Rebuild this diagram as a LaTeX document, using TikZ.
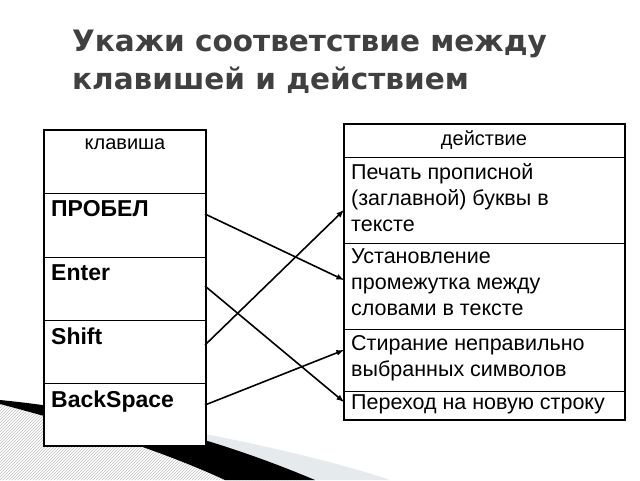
\documentclass[tikz,border=0pt]{standalone}
\usepackage{fontspec}
\setmainfont{Liberation Sans}
\newfontfamily\titlefont{DejaVu Sans}
\usetikzlibrary{patterns}
\begin{document}
\begin{tikzpicture}[x=1pt,y=-1pt,
  cell/.style={anchor=north west,inner sep=0pt,align=left,font=\fontsize{21.5}{26}\selectfont},
  key/.style={anchor=north west,inner sep=0pt,font=\bfseries\fontsize{23}{27}\selectfont},
  conn/.style={-latex,line width=1.6pt}]
\useasboundingbox (0,0) rectangle (640,480);
\fill[white] (0,0) rectangle (640,480);
% decoration
\fill[pattern=north east lines,pattern color=gray!50] (0,402) -- (300,480) -- (0,480) -- cycle;
\fill[cyan!15!gray!20] (0,402) .. controls (150,420) and (300,450) .. (390,480) -- (300,480) -- cycle;
\fill[black] (0,400) .. controls (120,412) and (220,440) .. (315,480) -- (225,480) .. controls (160,450) and (80,425) .. (0,404) -- cycle;
% title
\node[anchor=west,font=\titlefont\bfseries\fontsize{29.5}{34}\selectfont,text=black!75,inner sep=0pt] (t1) at (72,44) {Укажи соответствие между};
\node[anchor=west,font=\titlefont\bfseries\fontsize{29.5}{34}\selectfont,text=black!75,inner sep=0pt] (t2) at (72,80) {клавишей и действием};
% left table
\draw[line width=1.3pt,fill=white] (44,130) rectangle (206,446);
\foreach \y in {193,257,320,383} \draw[line width=0.7pt] (44,\y) -- (206,\y);
\node[anchor=north,inner sep=0pt,font=\fontsize{20}{24}\selectfont] (kh) at (125,139) {клавиша};
\node[key] (k1) at (51,200) {ПРОБЕЛ};
\node[key] (k2) at (51,264) {Enter};
\node[key] (k3) at (51,328) {Shift};
\node[key] (k4) at (51,391) {BackSpace};
% right table
\draw[line width=1.3pt,fill=white] (344,124) rectangle (625,420);
\foreach \y in {157,243,329,391} \draw[line width=0.7pt] (344,\y) -- (625,\y);
\node[anchor=north,inner sep=0pt,font=\fontsize{20}{24}\selectfont] (dh) at (484,130) {действие};
\node[cell] (d1) at (351,163) {Печать прописной\\(заглавной) буквы в\\тексте};
\node[cell] (d2) at (351,249) {Установление\\промежутка между\\словами в тексте};
\node[cell] (d3) at (351,335) {Стирание неправильно\\выбранных символов};
\node[cell] (d4) at (351,395) {Переход на новую строку};
% connectors
\coordinate (a1) at (205,214); \coordinate (b1) at (344,280);
\coordinate (a2) at (205,286); \coordinate (b2) at (344,402);
\coordinate (a3) at (205,345); \coordinate (b3) at (344,210);
\coordinate (a4) at (205,405); \coordinate (b4) at (344,350);
\draw[conn] (a1) -- (b1);
\draw[conn] (a2) -- (b2);
\draw[conn] (a3) -- (b3);
\draw[conn] (a4) -- (b4);
\end{tikzpicture}
\end{document}
